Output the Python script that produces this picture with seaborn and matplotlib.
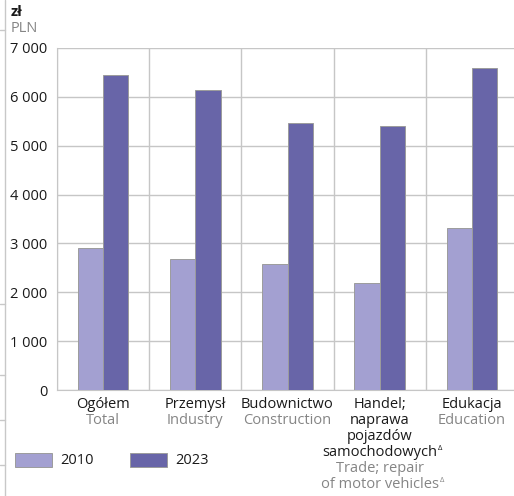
import numpy as np
import pandas as pd
import seaborn as sns
import matplotlib.pyplot as plt
from matplotlib.lines import Line2D
from matplotlib.patches import Rectangle
import matplotlib.transforms as mtransforms

# wages by sector, PLN
categories = ["Ogółem", "Przemysł", "Budownictwo", "Handel", "Edukacja"]
# lines ending in "*" get a small delta mark
labels_pl = [["Ogółem"], ["Przemysł"], ["Budownictwo"],
             ["Handel;", "naprawa", "pojazdów", "samochodowych*"], ["Edukacja"]]
labels_en = [["Total"], ["Industry"], ["Construction"],
             ["Trade; repair", "of motor vehicles*"], ["Education"]]
years = ["2010", "2023"]
values_2010 = [2900, 2680, 2580, 2190, 3310]
values_2023 = [6450, 6150, 5460, 5400, 6600]
yticks = [0, 1000, 2000, 3000, 4000, 5000, 6000, 7000]
ytick_labels = ["0", "1 000", "2 000", "3 000", "4 000", "5 000", "6 000", "7 000"]

colors = {"2010": "#a3a0d1", "2023": "#6865a8"}
grid_c = "#c6c6c6"
grey_txt = "#858585"
black_txt = "#1a1a1a"

df = pd.DataFrame({
    "cat": categories * 2,
    "year": [years[0]] * 5 + [years[1]] * 5,
    "value": values_2010 + values_2023,
})

sns.set_style("white")
plt.rcParams["font.family"] = ["Open Sans", "DejaVu Sans"]

fig = plt.figure(figsize=(5.14, 4.96), dpi=100)
ax = fig.add_axes([57 / 514, 106 / 496, 461 / 514, 342 / 496])

sns.barplot(data=df, x="cat", y="value", hue="year", palette=colors,
            saturation=1, width=0.55, gap=0, ax=ax, edgecolor="#9c9c9c",
            linewidth=0.7, legend=False, zorder=3)

ax.set_xlim(-0.5, 4.5)
ax.set_ylim(0, 7000)
ax.set_yticks(yticks)
ax.set_yticklabels(ytick_labels, fontsize=10.5, color=black_txt)
ax.yaxis.grid(True, color=grid_c, linewidth=1)
for xv in np.arange(-0.5, 5, 1):
    ax.axvline(xv, color=grid_c, linewidth=1, zorder=1)
for s in ["top", "right"]:
    ax.spines[s].set_visible(False)
for s in ["left", "bottom"]:
    ax.spines[s].set_color(grid_c)
ax.tick_params(axis="y", length=0, pad=7)
ax.set_xticks([])
ax.set_xlabel("")
ax.set_ylabel("")

# category labels: Polish in black, English in grey below, one line at a time
trans = mtransforms.blended_transform_factory(ax.transData, ax.transAxes)
renderer = fig.canvas.get_renderer()
for i in range(len(categories)):
    lines = [(l, black_txt) for l in labels_pl[i]] + [(l, grey_txt) for l in labels_en[i]]
    for k, (line, col) in enumerate(lines):
        off = mtransforms.ScaledTranslation(0, -(15 + 16 * k) / 100, fig.dpi_scale_trans)
        mark = line.endswith("*")
        txt = line.rstrip("*")
        t = ax.text(i, 0, txt, transform=trans + off, ha="center", va="center",
                    fontsize=10.5, color=col)
        if mark:
            bb = t.get_window_extent(renderer)
            fig.text((bb.x1 + 1) / 514, (bb.y1 + 1) / 496, "Δ", fontsize=5.5,
                     color=col, ha="left", va="top")

# unit label
fig.text(11 / 514, 1 - 12 / 496, "zł", fontsize=10.5, fontweight="bold",
         color=black_txt, va="center")
fig.text(11 / 514, 1 - 28 / 496, "PLN", fontsize=10.5, color=grey_txt, va="center")

# legend
for x0, yr in [(15, years[0]), (130, years[1])]:
    fig.add_artist(Rectangle((x0 / 514, 1 - 467 / 496), 37 / 514, 14 / 496,
                             transform=fig.transFigure, facecolor=colors[yr],
                             edgecolor="#9c9c9c", linewidth=0.7))
    fig.text((x0 + 45) / 514, 1 - 461 / 496, yr, fontsize=10.5,
             color=black_txt, va="center")

# page edge line with small marks
fig.add_artist(Line2D([5 / 514, 5 / 514], [0, 1], color="#c8c8c8", linewidth=1))
for yy in [30, 304, 375, 420, 465]:
    fig.add_artist(Line2D([0, 5 / 514], [1 - yy / 496] * 2, color="#c8c8c8",
                          linewidth=1))

fig.savefig("out.png", dpi=100)
